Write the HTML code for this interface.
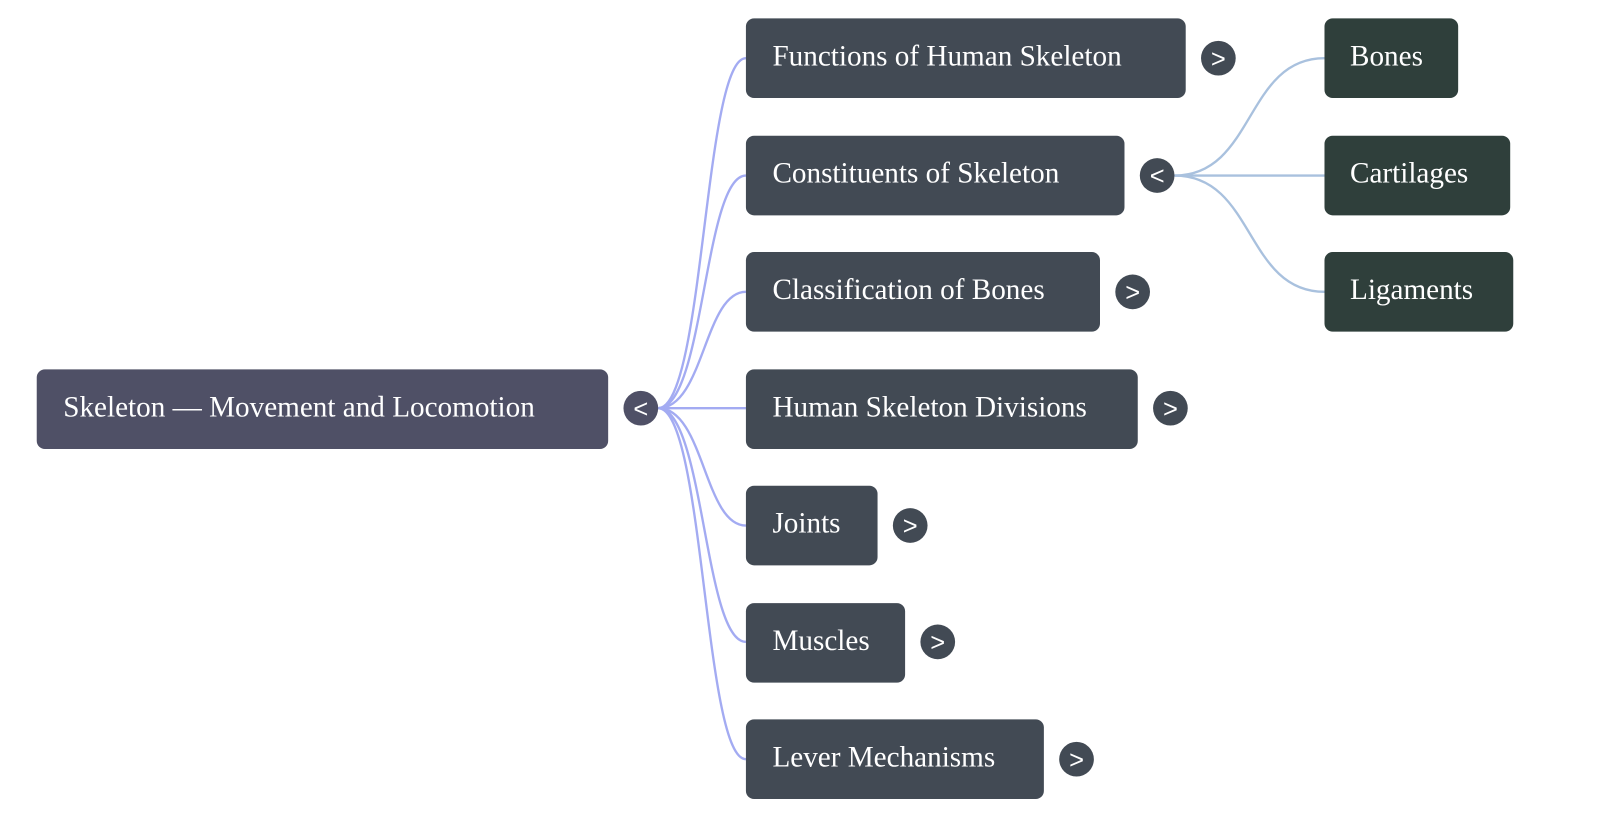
<!DOCTYPE html>
<html><head><meta charset="utf-8"><style>
html,body{margin:0;padding:0;background:#fff;width:1600px;height:818px;overflow:hidden}
text{font-family:"Liberation Serif",serif;font-size:28.6px;fill:#fff}
.t{font-family:"Liberation Sans",sans-serif;font-size:25px;fill:#fff}
</style></head><body>
<svg width="1600" height="818" viewBox="0 0 1568 801.6" xmlns="http://www.w3.org/2000/svg">
<g fill="none" stroke="#a3abf2" stroke-width="2.3">
<path d="M645,400 C690,400 690,57 731,57"/>
<path d="M645,400 C690,400 690,172 731,172"/>
<path d="M645,400 C690,400 690,286 731,286"/>
<path d="M645,400 L731,400"/>
<path d="M645,400 C690,400 690,515 731,515"/>
<path d="M645,400 C690,400 690,629 731,629"/>
<path d="M645,400 C690,400 690,744 731,744"/>
</g>
<g fill="none" stroke="#a9c1de" stroke-width="2.3">
<path d="M1151,172 C1230,172 1220,57 1298,57"/>
<path d="M1151,172 L1298,172"/>
<path d="M1151,172 C1230,172 1220,286 1298,286"/>
</g>
<rect x="36" y="362" width="560" height="78" rx="8" fill="#4f5066"/>
<text x="62" y="408">Skeleton — Movement and Locomotion</text>
<circle cx="628" cy="400" r="17" fill="#4f5066"/><text class="t" x="628" y="409" text-anchor="middle">&lt;</text>
<g fill="#424a54">
<rect x="731" y="18" width="431" height="78" rx="8"/>
<rect x="731" y="133" width="371" height="78" rx="8"/>
<rect x="731" y="247" width="347" height="78" rx="8"/>
<rect x="731" y="362" width="384" height="78" rx="8"/>
<rect x="731" y="476" width="129" height="78" rx="8"/>
<rect x="731" y="591" width="156" height="78" rx="8"/>
<rect x="731" y="705" width="292" height="78" rx="8"/>
<circle cx="1194" cy="57" r="17"/>
<circle cx="1134" cy="172" r="17"/>
<circle cx="1110" cy="286" r="17"/>
<circle cx="1147" cy="400" r="17"/>
<circle cx="892" cy="515" r="17"/>
<circle cx="919" cy="629" r="17"/>
<circle cx="1055" cy="744" r="17"/>
</g>
<text x="757" y="64">Functions of Human Skeleton</text>
<text x="757" y="179">Constituents of Skeleton</text>
<text x="757" y="293">Classification of Bones</text>
<text x="757" y="408">Human Skeleton Divisions</text>
<text x="757" y="522">Joints</text>
<text x="757" y="637">Muscles</text>
<text x="757" y="751">Lever Mechanisms</text>
<g text-anchor="middle">
<text class="t" x="1194" y="66">&gt;</text>
<text class="t" x="1134" y="181">&lt;</text>
<text class="t" x="1110" y="295">&gt;</text>
<text class="t" x="1147" y="409">&gt;</text>
<text class="t" x="892" y="524">&gt;</text>
<text class="t" x="919" y="638">&gt;</text>
<text class="t" x="1055" y="753">&gt;</text>
</g>
<g fill="#2f3f3b">
<rect x="1298" y="18" width="131" height="78" rx="8"/>
<rect x="1298" y="133" width="182" height="78" rx="8"/>
<rect x="1298" y="247" width="185" height="78" rx="8"/>
</g>
<text x="1323" y="64">Bones</text>
<text x="1323" y="179">Cartilages</text>
<text x="1323" y="293">Ligaments</text>
</svg>
</body></html>
